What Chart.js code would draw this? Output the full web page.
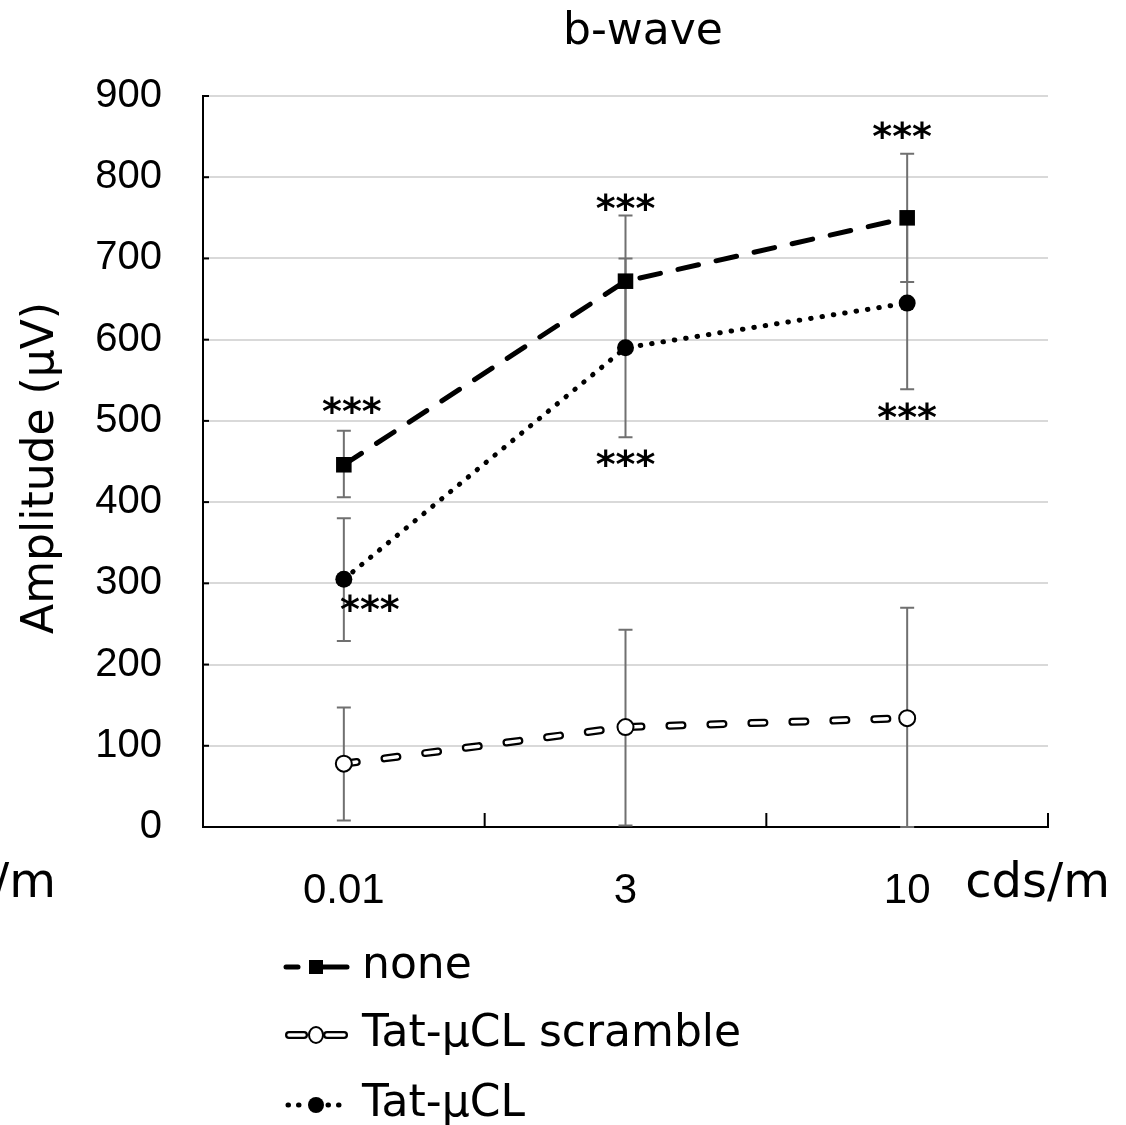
<!DOCTYPE html>
<html><head><meta charset="utf-8">
<script src="https://cdn.jsdelivr.net/npm/chart.js@4"></script>
<style>html,body{margin:0;padding:0;background:#fff;} #wrap{width:1126px;height:1125px;position:relative}</style>
</head><body><div id="wrap"><canvas id="c" width="1126" height="1125"></canvas></div>
<script>
// ---- data ----
const categories = ['0.01', '3', '10'];
const noneMean  = [446, 672, 750];
const noneUpper = [488, 753, 829];
const noneLower = [406, 592, 671];
const scrMean   = [78, 123, 134];
const scrUpper  = [147, 243, 270];
const scrLower  = [8, 2, 0];
const tatMean   = [305, 590, 645];
const tatUpper  = [380, 700, 751];
const tatLower  = [229, 480, 539];
const yTickValues = [0, 100, 200, 300, 400, 500, 600, 700, 800, 900];
const legendLabels = ['none', 'Tat-μCL scramble', 'Tat-μCL'];
const titleText = 'b-wave';
const yTitleText = 'Amplitude (μV)';
const unitText = 'cds/m';
const starText = '***';
const starCats   = [0, 0, 1, 1, 2, 2];
const starValues = [521, 277, 770, 455, 859, 513];

// ---- styles ----
const GF = '"DejaVu Sans", "Noto Sans", sans-serif';
const AR = '"Liberation Sans", Arial, sans-serif';
const starDx = [8, 26, 0, 0, -5, 0];

const errorBars = {
  id: 'errorBars',
  beforeDatasetsDraw(chart) {
    const {ctx, scales: {x, y}} = chart;
    const sets = [[scrUpper, scrLower], [tatUpper, tatLower], [noneUpper, noneLower]];
    ctx.save();
    ctx.strokeStyle = '#707070';
    ctx.lineWidth = 2;
    sets.forEach(([up, lo]) => {
      up.forEach((u, i) => {
        const px = x.getPixelForValue(i);
        const y1 = y.getPixelForValue(u), y2 = y.getPixelForValue(lo[i]);
        ctx.beginPath();
        ctx.moveTo(px, y1); ctx.lineTo(px, y2);
        ctx.moveTo(px - 7, y1); ctx.lineTo(px + 7, y1);
        ctx.moveTo(px - 7, y2); ctx.lineTo(px + 7, y2);
        ctx.stroke();
      });
    });
    ctx.restore();
  }
};

function drawMarker(ctx, type, cx, cy) {
  ctx.save();
  ctx.setLineDash([]);
  if (type === 'rect') {
    ctx.fillStyle = '#000';
    ctx.fillRect(cx - 7, cy - 7, 14, 14);
  } else if (type === 'open') {
    ctx.beginPath(); ctx.ellipse(cx, cy, 7, 8, 0, 0, Math.PI * 2);
    ctx.fillStyle = '#fff'; ctx.fill();
    ctx.lineWidth = 2; ctx.strokeStyle = '#000'; ctx.stroke();
  } else {
    ctx.beginPath(); ctx.arc(cx, cy, 8, 0, Math.PI * 2);
    ctx.fillStyle = '#000'; ctx.fill();
  }
  ctx.restore();
}

function seg(ctx, a, b, yy) { ctx.beginPath(); ctx.moveTo(a, yy); ctx.lineTo(b, yy); ctx.stroke(); }

const extras = {
  id: 'extras',
  afterDraw(chart) {
    const {ctx, scales: {x, y}, chartArea: ca} = chart;
    ctx.save();
    // inward y ticks
    ctx.strokeStyle = '#000'; ctx.lineWidth = 2;
    yTickValues.forEach(v => {
      const py = y.getPixelForValue(v);
      seg(ctx, ca.left, ca.left + 6, py);
    });
    // inward x ticks at category boundaries
    const step = x.getPixelForValue(1) - x.getPixelForValue(0);
    for (let i = 0; i <= categories.length; i++) {
      const px = x.getPixelForValue(0) - step / 2 + i * step;
      ctx.beginPath(); ctx.moveTo(px, ca.bottom); ctx.lineTo(px, ca.bottom - 14); ctx.stroke();
    }
    // title
    ctx.fillStyle = '#000';
    ctx.textBaseline = 'middle';
    ctx.textAlign = 'center';
    ctx.font = '44px ' + GF;
    ctx.fillText(titleText, 643, 33);
    // y axis title
    ctx.save();
    ctx.translate(42, 468);
    ctx.rotate(-Math.PI / 2);
    ctx.font = '44px ' + GF;
    ctx.fillText(yTitleText, 0, 0);
    ctx.restore();
    // unit labels
    ctx.font = '48px ' + GF;
    ctx.textAlign = 'left';
    ctx.fillText(unitText, x.getPixelForValue(2) + 58, 885);
    ctx.textAlign = 'right';
    ctx.fillText(unitText, 56, 885);
    // stars
    ctx.textAlign = 'center';
    ctx.font = 'bold 38px ' + GF;
    starCats.forEach((c, i) => {
      ctx.fillText(starText, x.getPixelForValue(c) + starDx[i], y.getPixelForValue(starValues[i]) + 10);
    });
    // legend
    const rows = [967, 1035, 1105];
    const lx0 = 286, lx1 = 347, mx = 316;
    ctx.strokeStyle = '#000';
    ctx.lineCap = 'round';
    // none
    ctx.lineWidth = 5;
    seg(ctx, lx0, lx0 + 12, rows[0]);
    seg(ctx, mx + 6, lx1, rows[0]);
    drawMarker(ctx, 'rect', mx, rows[0]);
    // scramble
    [[lx0 + 3, mx - 12], [mx + 11, lx1 - 3]].forEach(([a, b]) => {
      ctx.strokeStyle = '#000'; ctx.lineWidth = 8; seg(ctx, a, b, rows[1]);
      ctx.strokeStyle = '#fff'; ctx.lineWidth = 3.5; seg(ctx, a, b, rows[1]);
    });
    drawMarker(ctx, 'open', mx, rows[1]);
    // tat
    ctx.strokeStyle = '#000'; ctx.lineWidth = 5;
    ctx.setLineDash([0.5, 10]);
    seg(ctx, lx0 + 2, mx - 8, rows[2]);
    seg(ctx, mx + 12, lx1 + 2, rows[2]);
    ctx.setLineDash([]);
    drawMarker(ctx, 'dot', mx, rows[2]);
    ctx.fillStyle = '#000';
    ctx.textAlign = 'left';
    ctx.font = '44px ' + GF;
    legendLabels.forEach((t, i) => ctx.fillText(t, 362, rows[i]));
    ctx.restore();
  }
};

new Chart(document.getElementById('c'), {
  type: 'line',
  data: {
    labels: categories,
    datasets: [
      { label: legendLabels[0], data: noneMean, borderColor: '#000', borderWidth: 5,
        borderDash: [21, 18], borderCapStyle: 'round', pointStyle: 'rect', pointRadius: 11,
        pointBackgroundColor: '#000', pointBorderColor: '#000', pointBorderWidth: 0, tension: 0 },
      { label: legendLabels[1], data: scrMean, borderColor: '#fff', borderWidth: 3.5,
        borderDash: [13, 28], borderCapStyle: 'round', pointStyle: 'circle', pointRadius: 8,
        pointBackgroundColor: '#fff', pointBorderColor: '#000', pointBorderWidth: 2, tension: 0 },
      { label: legendLabels[1] + ' outline', data: scrMean, borderColor: '#000', borderWidth: 8,
        borderDash: [13, 28], borderCapStyle: 'round', pointRadius: 0, tension: 0 },
      { label: legendLabels[2], data: tatMean, borderColor: '#000', borderWidth: 5,
        borderDash: [0.5, 11], borderCapStyle: 'round', pointStyle: 'circle', pointRadius: 8.5,
        pointBackgroundColor: '#000', pointBorderColor: '#000', pointBorderWidth: 0, tension: 0 }
    ]
  },
  options: {
    responsive: false,
    animation: false,
    events: [],
    layout: { padding: { top: 96, right: 78, bottom: 0, left: 0 } },
    plugins: { legend: { display: false }, title: { display: false }, tooltip: { enabled: false } },
    scales: {
      x: {
        type: 'category', offset: true,
        grid: { display: false },
        border: { display: true, color: '#000', width: 2 },
        ticks: { color: '#000', font: { family: AR, size: 42 }, padding: 31, maxRotation: 0 },
        afterFit: s => { s.height = 298; }
      },
      y: {
        min: 0, max: 900,
        afterBuildTicks: s => { s.ticks = yTickValues.map(v => ({ value: v })); },
        grid: { color: '#d9d9d9', lineWidth: 2, drawTicks: false },
        border: { display: true, color: '#000', width: 2 },
        ticks: { color: '#000', font: { family: AR, size: 40 }, padding: 41 },
        title: { display: false },
        afterFit: s => { s.width = 203; }
      }
    }
  },
  plugins: [errorBars, extras]
});
</script></body></html>
